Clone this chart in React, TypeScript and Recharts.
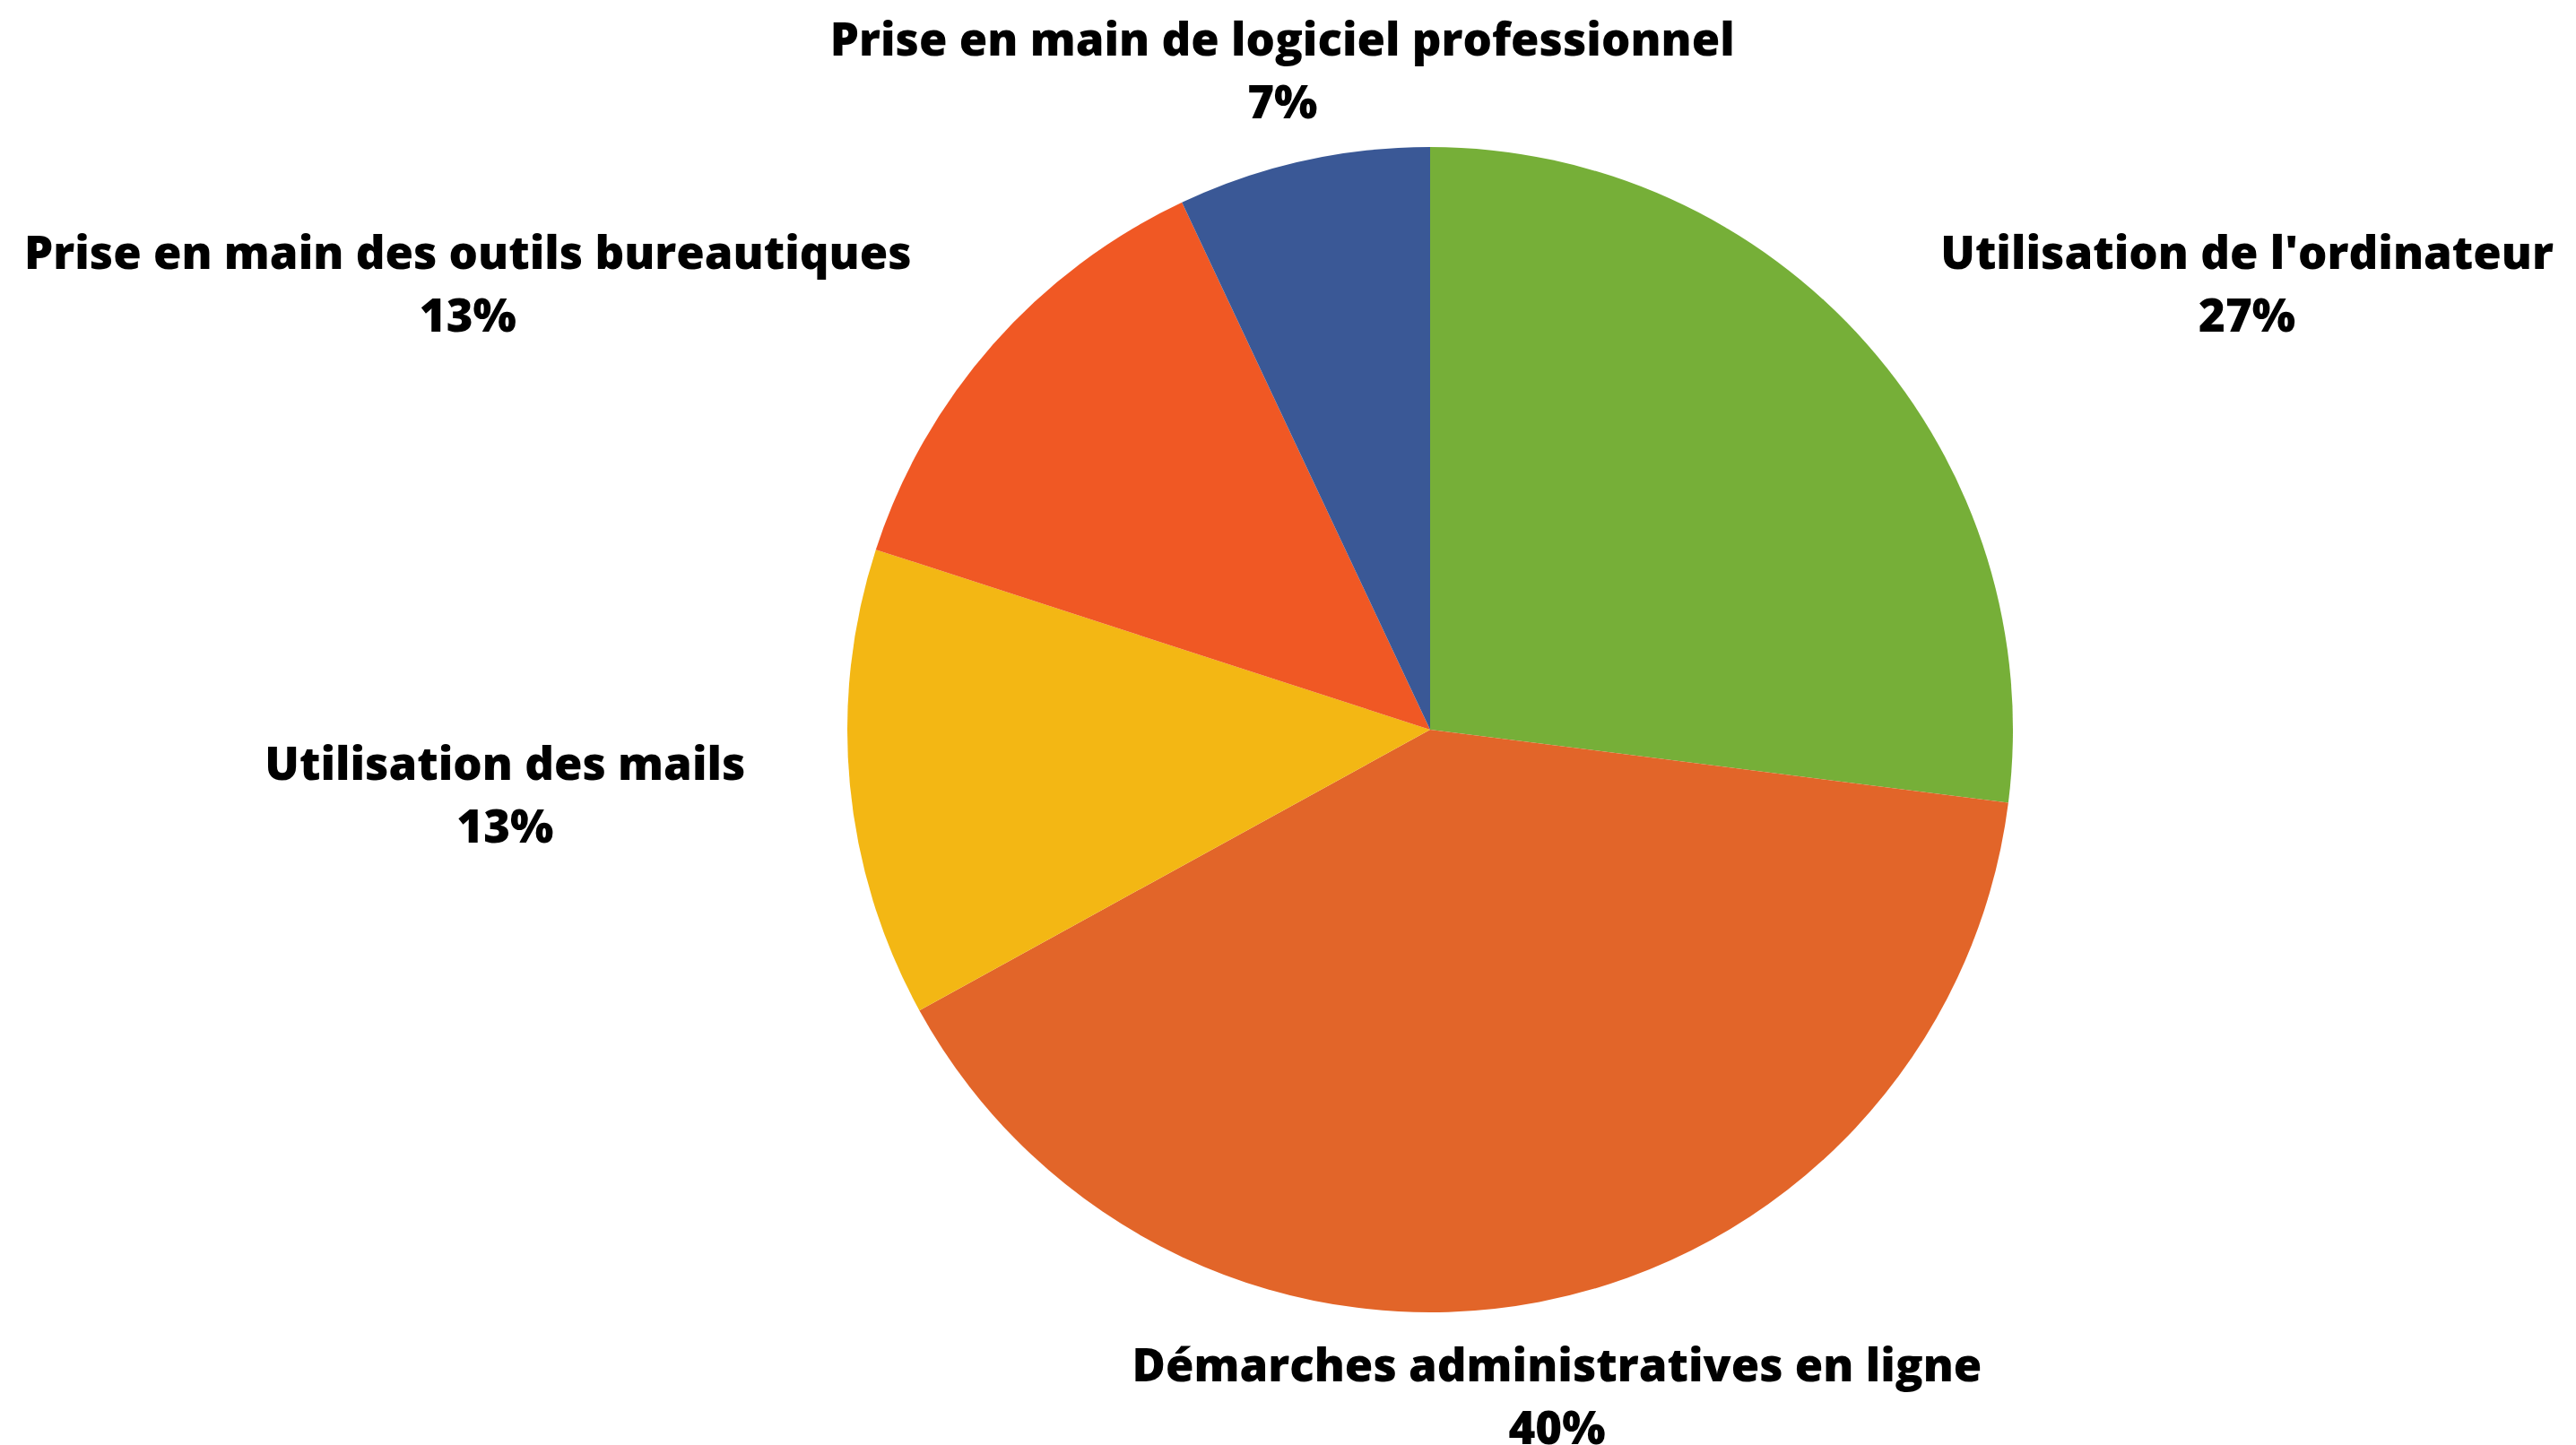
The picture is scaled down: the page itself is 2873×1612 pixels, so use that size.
import React from "react";
import { PieChart, Pie, Cell } from "recharts";

const categories = [
  "Utilisation de l'ordinateur",
  "Démarches administratives en ligne",
  "Utilisation des mails",
  "Prise en main des outils bureautiques",
  "Prise en main de logiciel professionnel",
];
const values = [27, 40, 13, 13, 7];
const colors = ["#76AF38", "#E26529", "#F3B714", "#F05824", "#3A5896"];

const data = categories.map((name, i) => ({ name, value: values[i] }));

const FONT_SIZE = 51;
const FONT_WEIGHT = 800;
const FONT_FAMILY = "'Open Sans', 'Noto Sans', sans-serif";
const LINE_GAP = 70;
const LABEL_OFFSET = 105;
const PAD_RIGHT = 3;
const PAD_LEFT = 12;

let ctx: CanvasRenderingContext2D | null = null;
function measure(text: string): number {
  if (!ctx) {
    const c = document.createElement("canvas");
    ctx = c.getContext("2d");
  }
  if (!ctx) return text.length * FONT_SIZE * 0.55;
  ctx.font = `${FONT_WEIGHT} ${FONT_SIZE}px 'Open Sans'`;
  return ctx.measureText(text).width;
}

const renderLabel = (props: any) => {
  const { cx, cy, midAngle, outerRadius, name, value } = props;
  const RAD = Math.PI / 180;
  const r = outerRadius + LABEL_OFFSET;
  const cos = Math.cos(-midAngle * RAD);
  const sin = Math.sin(-midAngle * RAD);
  const px = cx + r * cos;
  const py = cy + r * sin;
  const pct = `${value}%`;
  const w = Math.max(measure(name), measure(pct));
  let x = px;
  if (cos > 0.3) x = px + PAD_RIGHT + w / 2;
  else if (cos < -0.3) x = px - PAD_LEFT - w / 2;
  const y1 = py - LINE_GAP / 2;
  const y2 = py + LINE_GAP / 2;
  const common = {
    textAnchor: "middle" as const,
    dominantBaseline: "central" as const,
    fill: "#000",
    fontSize: FONT_SIZE,
    fontWeight: FONT_WEIGHT,
    fontFamily: FONT_FAMILY,
  };
  return (
    <g>
      <text x={x} y={y1} {...common}>
        {name}
      </text>
      <text x={x} y={y2} {...common}>
        {pct}
      </text>
    </g>
  );
};

export default function App() {
  return (
    <div style={{ position: "absolute", left: 0, top: 0, width: 2873, height: 1612, background: "#fff" }}>
      <PieChart width={2873} height={1612} margin={{ top: 0, right: 0, bottom: 0, left: 0 }}>
        <Pie
          data={data}
          dataKey="value"
          nameKey="name"
          cx={1595}
          cy={814}
          outerRadius={650}
          startAngle={90}
          endAngle={-270}
          stroke="none"
          label={renderLabel}
          labelLine={false}
          isAnimationActive={false}
        >
          {data.map((d, i) => (
            <Cell key={d.name} fill={colors[i]} />
          ))}
        </Pie>
      </PieChart>
    </div>
  );
}
